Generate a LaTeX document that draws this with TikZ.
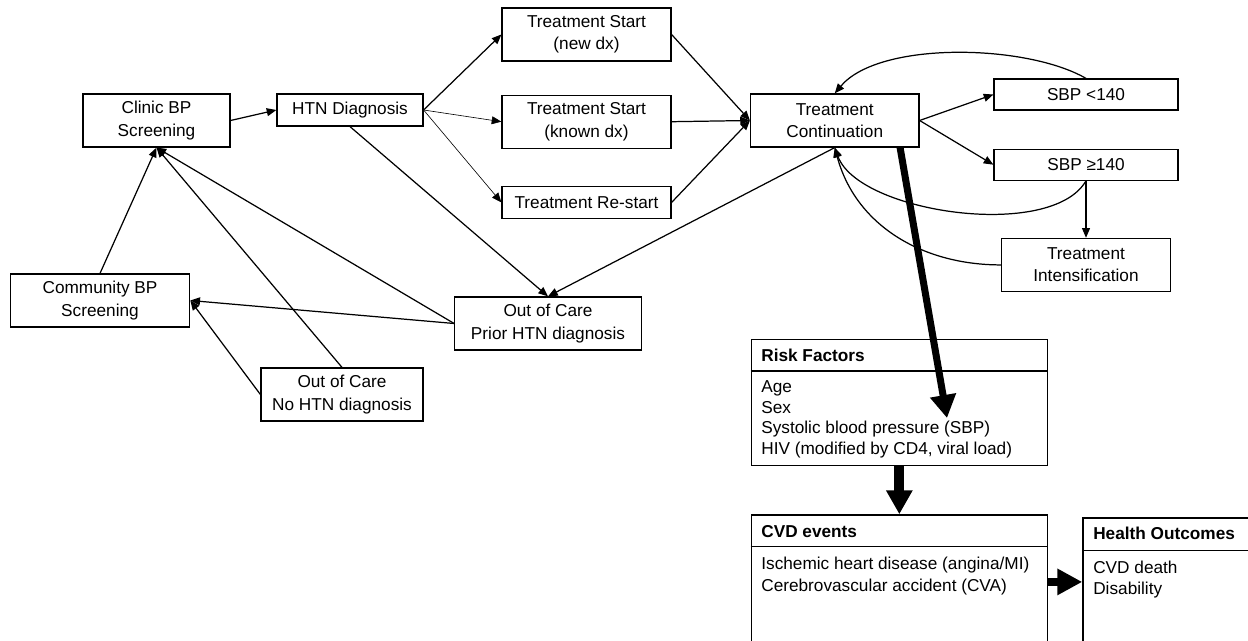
\documentclass[tikz,border=0pt]{standalone}
\usepackage{fontspec}
\setmainfont{Liberation Sans}
\usetikzlibrary{arrows.meta, positioning, calc}
\tikzset{
    state/.style={
        rectangle,
        draw=black,
        line width=0.7pt,
        minimum height=1.06cm,
        inner sep=1pt,
        align=center,
        fill=white,
        font=\fontsize{9.8}{12.6}\selectfont
    },
    panel/.style={
        rectangle,
        draw=black,
        line width=0.75pt,
        inner sep=0pt,
        fill=white
    },
    panelline/.style={
        draw=black,
        line width=0.75pt
    },
    item/.style={
        anchor=base west,
        inner sep=0pt,
        font=\fontsize{9.8}{11.7}\selectfont
    },
    head/.style={
        item,
        font=\fontsize{9.8}{11.7}\selectfont\bfseries
    },
    flow/.style={
        draw=black,
        line width=0.7pt,
        -{Triangle[width=4.5pt,length=5.5pt]}
    },
    thinflow/.style={
        draw=black,
        line width=0.35pt,
        -{Triangle[width=4.5pt,length=5.5pt]}
    },
    bigflow/.style={
        draw=black,
        line width=0.14cm,
        -{Triangle[width=0.5cm,length=0.46cm]}
    },
    stubflow/.style={
        draw=black,
        line width=0.2cm,
        -{Triangle[width=0.5cm,length=0.48cm]}
    },
    sideflow/.style={
        draw=black,
        line width=0.16cm,
        -{Triangle[width=0.5cm,length=0.5cm]}
    }
}
\begin{document}
\begin{tikzpicture}[x=0.02cm, y=-0.02cm]

\useasboundingbox (0,0) rectangle (1248,641);
\clip (0,0) rectangle (1248,641);

\node[state, minimum width=2.94cm] (clinic) at (156.5,120.5) {Clinic BP\\Screening};
\node[state, minimum width=2.92cm, minimum height=0.64cm] (htn) at (350,110) {HTN Diagnosis};

\node[state, minimum width=3.38cm] (tsnew) at (586.5,34.5) {Treatment Start\\(new dx)};
\node[state, minimum width=3.38cm, below=0.66cm of tsnew] (tsknown) {Treatment Start\\(known dx)};
\node[state, minimum width=3.38cm, minimum height=0.64cm, below=0.74cm of tsknown] (restart) {Treatment Re-start};

\node[state, minimum width=3.37cm] (tc) at (834.75,120.5) {Treatment\\Continuation};
\node[state, minimum width=3.68cm, minimum height=0.62cm] (sbplow) at (1086,94.5) {SBP <140};
\node[state, minimum width=3.68cm, minimum height=0.62cm, below=0.76cm of sbplow] (sbphigh) {SBP ≥140};
\node[state, minimum width=3.38cm, below=1.14cm of sbphigh] (intens) {Treatment\\Intensification};

\node[state, minimum width=3.59cm] (community) at (100,300.5) {Community BP\\Screening};
\node[state, minimum width=3.73cm] (oocprior) at (548,323.5) {Out of Care\\Prior HTN diagnosis};
\node[state, minimum width=3.24cm] (oocnone) at (342,394.5) {Out of Care\\No HTN diagnosis};

\draw[flow] (clinic.east) -- (htn.west);
\draw[flow] (htn.east) -- (tsnew.west);
\draw[thinflow] (htn.east) -- (tsknown.west);
\draw[thinflow] (htn.east) -- (restart.west);
\draw[flow] (tsnew.east) -- (tc.west);
\draw[flow] (tsknown.east) -- (tc.west);
\draw[flow] (restart.east) -- (tc.west);

\draw[flow] (htn.south) -- (oocprior.north);
\draw[flow] (tc.south) -- (oocprior.north);
\draw[flow] (oocprior.west) -- (clinic.south);
\draw[flow] (oocprior.west) -- (community.east);
\draw[flow] (community.north) -- (clinic.south);
\draw[flow] (oocnone.north) -- (clinic.south);
\draw[flow] (oocnone.west) -- (community.east);

\draw[flow] (tc.east) -- (sbplow.west);
\draw[flow] (tc.east) -- (sbphigh.west);
\draw[flow] (sbphigh.south) -- (intens.north);
\draw[flow] (sbplow.north) to[out=150, in=50, looseness=0.7] (tc.north);
\draw[flow] (sbphigh.south) to[out=-120, in=-70, looseness=0.7] (tc.south);
\draw[flow] (intens.west) to[out=180, in=-75] (tc.south);

\node[panel, anchor=north west, minimum width=5.92cm, minimum height=2.52cm] (rf) at (750.7,339) {};
\draw[panelline] ($(rf.north west)+(0,32)$) -- ($(rf.north east)+(0,32)$);
\node[head] (rfhead) at ($(rf.north west)+(10.3,23)$) {Risk Factors};
\node[item] (rfage) at ($(rf.north west)+(10.3,54)$) {Age};
\node[item] (rfsex) at ($(rf.north west)+(10.3,74.5)$) {Sex};
\node[item] (rfsbp) at ($(rf.north west)+(10.3,95)$) {Systolic blood pressure (SBP)};
\node[item] (rfhiv) at ($(rf.north west)+(10.3,115.5)$) {HIV (modified by CD4, viral load)};

\node[panel, below=0.96cm of rf, minimum width=5.92cm, minimum height=2.68cm] (cvd) {};
\draw[panelline] ($(cvd.north west)+(0,32)$) -- ($(cvd.north east)+(0,32)$);
\node[head] (cvdhead) at ($(cvd.north west)+(10.3,23)$) {CVD events};
\node[item] (cvdihd) at ($(cvd.north west)+(10.3,55)$) {Ischemic heart disease (angina/MI)};
\node[item] (cvdcva) at ($(cvd.north west)+(10.3,77)$) {Cerebrovascular accident (CVA)};

\node[panel, right=0.686cm of cvd, minimum width=3.6cm, minimum height=2.56cm] (health) {};
\draw[panelline] ($(health.north west)+(0,33)$) -- ($(health.north east)+(0,33)$);
\node[head] (healthhead) at ($(health.north west)+(10.7,22)$) {Health Outcomes};
\node[item] (healthdeath) at ($(health.north west)+(10.7,56.7)$) {CVD death};
\node[item] (healthdis) at ($(health.north west)+(10.7,77.3)$) {Disability};

\coordinate (sbpmark) at (947,418);
\draw[bigflow] ($(tc.south)!0.77!(tc.south east)$) -- (sbpmark);
\draw[stubflow] (rf.south) -- (cvd.north);
\draw[sideflow] (cvd.east) -- (health.west);

\end{tikzpicture}
\end{document}
